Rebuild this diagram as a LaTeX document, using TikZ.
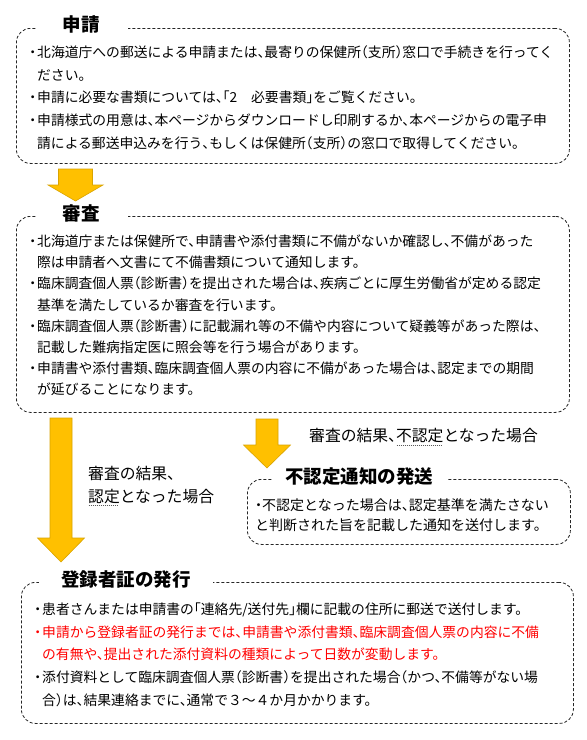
\documentclass[tikz,border=0pt]{standalone}
\usepackage{fontspec}
\setmainfont{Noto Sans CJK JP}[RawFeature=+halt]
\definecolor{arrowfill}{HTML}{FFC000}
\definecolor{arrowedge}{HTML}{D9A400}
\definecolor{warnred}{HTML}{FF0000}
\newcommand\bl{\makebox[9pt][c]{・}}
\newcommand\ind{\hspace*{9pt}}
\newcommand\dotul[1]{\leavevmode\setbox0=\hbox{#1}\rlap{\raisebox{-3.5pt}{\hbox to \wd0{\color{black!65}\leaders\hbox to 2pt{\hss\rule{1.2pt}{0.7pt}\hss}\hfill}}}\box0}
\newcommand\blockarr[5]{%
  \draw[blockarrow] (#1) ++(-#2,0) -- ++(2*#2,0) -- ++(0,#3) -- ++(#4-#2,0)
    -- ++(-#4,#5) -- ++(-#4,-#5) -- ++(#4-#2,0) -- cycle;}
\tikzset{
  frame/.style={draw=black!85, line width=0.8pt, dash pattern=on 3pt off 2pt,
    rounded corners=14pt, anchor=north west, inner sep=0pt},
  boxtitle/.style={fill=white, font=\fontsize{18.5}{20}\selectfont\bfseries, inner ysep=2pt},
  bodytext/.style={anchor=north west, inner sep=0pt, align=left, font=\fontsize{13.8}{22.75}\selectfont},
  bodytexttight/.style={bodytext, font=\fontsize{13.8}{21.2}\selectfont},
  bodytextsmall/.style={bodytext, font=\fontsize{14}{20}\selectfont},
  caselabel/.style={inner sep=0pt, align=left, font=\fontsize{15.8}{23}\selectfont},
  blockarrow/.style={fill=arrowfill, draw=arrowedge, line width=0.6pt}
}
\begin{document}
\begin{tikzpicture}[x=1pt,y=-1pt]
\useasboundingbox (0,0) rectangle (587,740);
\fill[white] (0,0) rectangle (587,740);

% ---------- box 1: 申請 ----------
\node[frame, minimum width=553pt, minimum height=135pt] (b1) at (16,28) {};
\node[boxtitle, inner xsep=27.5pt] (h1) at (81.5,24) {申請};
\node[bodytext] (t1) at (28,41.3) {\strut\bl 北海道庁への郵送による申請または、最寄りの保健所（支所）窓口で手続きを行ってく\\
\ind ださい。\\
\bl 申請に必要な書類については、「2　必要書類」をご覧ください。\\
\bl 申請様式の用意は、本ページからダウンロードし印刷するか、本ページからの電子申\\
\ind 請による郵送申込みを行う、もしくは保健所（支所）の窓口で取得してください。};

% ---------- arrow 1 ----------
\coordinate (a1) at (75.5,169);
\blockarr{a1}{17}{16}{27.5}{16}

% ---------- box 2: 審査 ----------
\node[frame, minimum width=553pt, minimum height=196pt] (b2) at (16,216) {};
\node[boxtitle, inner xsep=27.5pt] (h2) at (81.5,213) {審査};
\node[bodytexttight] (t2) at (28,231.4) {\strut\bl 北海道庁または保健所で、申請書や添付書類に不備がないか確認し、不備があった\\
\ind 際は申請者へ文書にて不備書類について通知します。\\
\bl 臨床調査個人票（診断書）を提出された場合は、疾病ごとに厚生労働省が定める認定\\
\ind 基準を満たしているか審査を行います。\\
\bl 臨床調査個人票（診断書）に記載漏れ等の不備や内容について疑義等があった際は、\\
\ind 記載した難病指定医に照会等を行う場合があります。\\
\bl 申請書や添付書類、臨床調査個人票の内容に不備があった場合は、認定までの期間\\
\ind が延びることになります。};

% ---------- arrows 2 and 3 ----------
\coordinate (a2) at (61,418);
\blockarr{a2}{11}{120}{23.5}{24}
\coordinate (a3) at (267,419);
\blockarr{a3}{11}{26}{23.5}{23}

\node[caselabel, anchor=west] (l1) at (309,437) {審査の結果、\dotul{不認定}となった場合};
\node[caselabel, anchor=north west] (l2) at (88,462.9) {\strut 審査の結果、\\ \dotul{認定}となった場合};

% ---------- box 3: 不認定通知の発送 ----------
\node[frame, minimum width=323pt, minimum height=65pt] (b3) at (247,479) {};
\node[boxtitle, inner xsep=13.5pt] (h3) at (359,477) {不認定通知の発送};
\node[bodytextsmall] (t3) at (255,496.3) {\strut ・不認定となった場合は、認定基準を満たさない\\
と判断された旨を記載した通知を送付します。};

% ---------- box 4: 登録者証の発行 ----------
\node[frame, minimum width=552pt, minimum height=141pt] (b4) at (21,582) {};
\node[boxtitle, inner xsep=22pt] (h4) at (126,579) {登録者証の発行};
\node[bodytext] (t4) at (33,598.3) {\strut\bl 患者さんまたは申請書の「連絡先/送付先」欄に記載の住所に郵送で送付します。\\
{\color{warnred}\bl 申請から登録者証の発行までは、申請書や添付書類、臨床調査個人票の内容に不備}\\
{\color{warnred}\ind の有無や、提出された添付資料の種類によって日数が変動します。}\\
\bl 添付資料として臨床調査個人票（診断書）を提出された場合（かつ、不備等がない場\\
\ind 合）は、結果連絡までに、通常で３～４か月かかります。};
\end{tikzpicture}
\end{document}
